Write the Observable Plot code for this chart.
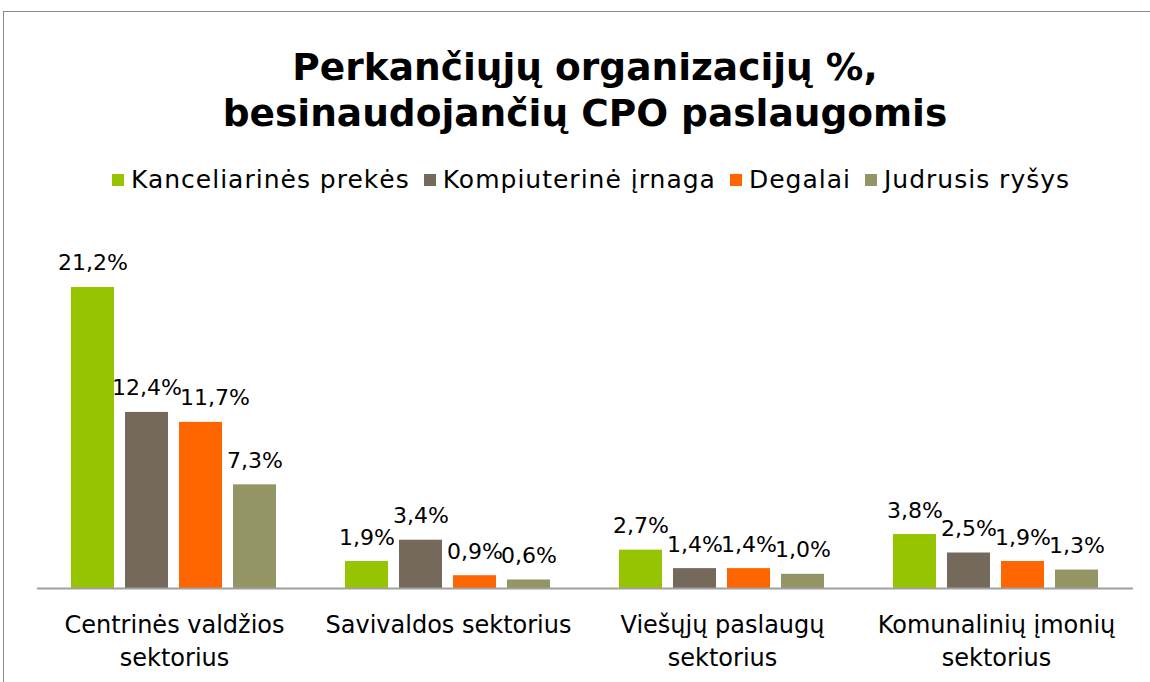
<!DOCTYPE html>
<html>
<head>
<meta charset="utf-8">
<script src="https://cdn.jsdelivr.net/npm/d3@7"></script>
<script src="https://cdn.jsdelivr.net/npm/@observablehq/plot@0.6"></script>
<style>
  html, body { margin: 0; padding: 0; background: #fff; }
  body { width: 1150px; height: 682px; position: relative; overflow: hidden; font-family: "DejaVu Sans", sans-serif; }
  #frame { position: absolute; left: 3px; top: 11px; width: 1200px; height: 800px; border: 1.5px solid #8a8a8a; box-sizing: border-box; }
  #title { position: absolute; left: 0; width: 1170px; top: 44px; text-align: center; font-weight: bold; font-size: 37.5px; line-height: 46px; color: #000; }
  #legend { position: absolute; left: 0; width: 1182px; top: 166px; display: flex; justify-content: center; font-size: 25px; letter-spacing: 1px; line-height: 28px; color: #000; }
  .item { display: flex; align-items: center; margin: 0 7px; }
  .sw { width: 12px; height: 12px; margin-right: 7px; }
  #chart { position: absolute; left: 0; top: 200px; }
</style>
</head>
<body>
<div id="frame"></div>
<div id="title">Perkančiųjų organizacijų %,<br>besinaudojančių CPO paslaugomis</div>
<div id="legend"></div>
<div id="chart"></div>
<script>
const categories = ["Centrinės valdžios sektorius", "Savivaldos sektorius", "Viešųjų paslaugų sektorius", "Komunalinių įmonių sektorius"];
const categoryLabels = ["Centrinės valdžios\nsektorius", "Savivaldos sektorius", "Viešųjų paslaugų\nsektorius", "Komunalinių įmonių\nsektorius"];
const series = ["Kanceliarinės prekės", "Kompiuterinė įrnaga", "Degalai", "Judrusis ryšys"];
const colors = ["#96c400", "#74695a", "#ff6600", "#939565"];
const kanceliarines = [21.2, 1.9, 2.7, 3.8];
const kompiuterine = [12.4, 3.4, 1.4, 2.5];
const degalai = [11.7, 0.9, 1.4, 1.9];
const judrusis = [7.3, 0.6, 1.0, 1.3];

const valuesBySeries = [kanceliarines, kompiuterine, degalai, judrusis];
const data = [];
categories.forEach((c, i) => {
  series.forEach((s, j) => {
    data.push({category: c, series: s, value: valuesBySeries[j][i]});
  });
});

// legend
const legend = document.getElementById("legend");
series.forEach((s, j) => {
  const it = document.createElement("div");
  it.className = "item";
  const sw = document.createElement("div");
  sw.className = "sw";
  sw.style.background = colors[j];
  const t = document.createElement("span");
  t.textContent = s;
  it.appendChild(sw);
  it.appendChild(t);
  legend.appendChild(it);
});

const fmt = v => v.toFixed(1).replace(".", ",") + "%";
// the one label that the original nudged sideways to clear its neighbour
const nudged = d => d.category === categories[0] && d.series === series[2];

const chart = Plot.plot({
  width: 1150,
  height: 482,
  marginLeft: 35,
  marginRight: 16,
  marginTop: 33,
  marginBottom: 94,
  style: {fontFamily: "DejaVu Sans", fontSize: "22px", color: "#000", background: "transparent"},
  fx: {domain: categories, padding: 0, label: null},
  x: {domain: series, paddingInner: 0.2, paddingOuter: 0.6, axis: null},
  y: {domain: [0, 25], axis: null},
  color: {domain: series, range: colors},
  marks: [
    Plot.barY(data, {fx: "category", x: "series", y: "value", fill: "series"}),
    Plot.ruleY([0], {stroke: "#a0a0a0", strokeWidth: 2}),
    Plot.text(data.filter(d => !nudged(d)), {fx: "category", x: "series", y: "value", text: d => fmt(d.value), lineAnchor: "bottom", dy: -17, fill: "#000", fontSize: 22}),
    Plot.text(data.filter(nudged), {fx: "category", x: "series", y: "value", text: d => fmt(d.value), lineAnchor: "bottom", dy: -17, dx: 14, fill: "#000", fontSize: 22}),
    Plot.axisFx({anchor: "bottom", tickSize: 0, tickPadding: 21, fontSize: 24, lineHeight: 1.38, label: null,
      tickFormat: c => categoryLabels[categories.indexOf(c)]})
  ]
});
document.getElementById("chart").appendChild(chart);
</script>
</body>
</html>
